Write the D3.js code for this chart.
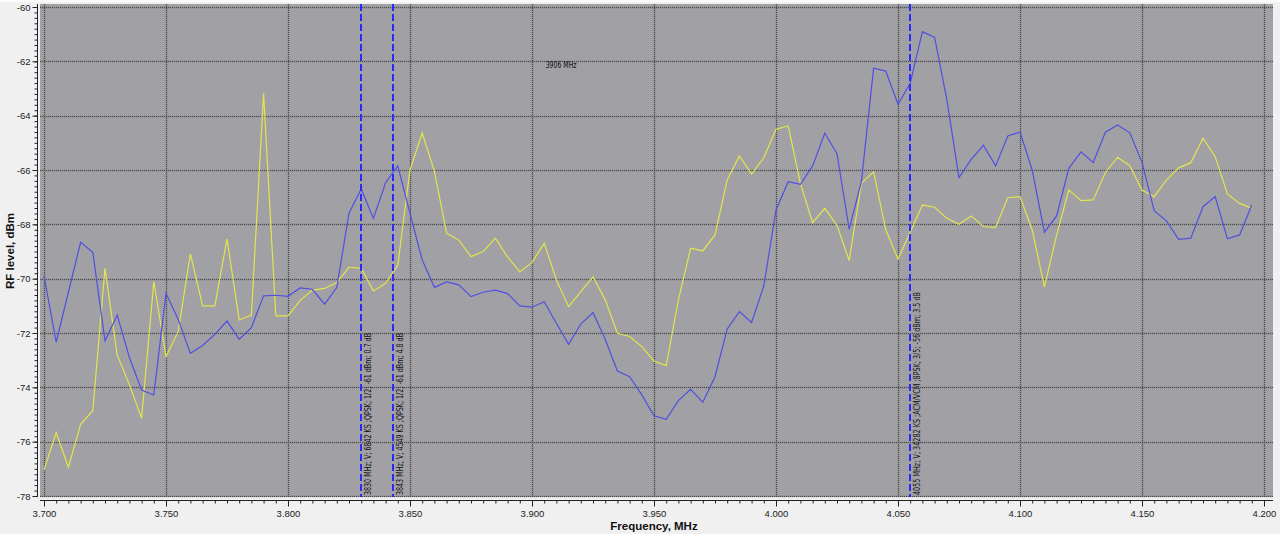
<!DOCTYPE html>
<html>
<head>
<meta charset="utf-8">
<script src="https://cdn.jsdelivr.net/npm/d3@7"></script>
<style>
  html, body { margin: 0; padding: 0; background: #f0f0f0; }
  svg { display: block; }
</style>
</head>
<body>
<svg id="chart" width="1280" height="534"></svg>
<script>
// ---------------- DATA ----------------
const freqs = [
  3.700,3.705,3.710,3.715,3.720,3.725,3.730,3.735,3.740,3.745,
  3.750,3.755,3.760,3.765,3.770,3.775,3.780,3.785,3.790,3.795,
  3.800,3.805,3.810,3.815,3.820,3.825,3.830,3.835,3.840,3.845,
  3.850,3.855,3.860,3.865,3.870,3.875,3.880,3.885,3.890,3.895,
  3.900,3.905,3.910,3.915,3.920,3.925,3.930,3.935,3.940,3.945,
  3.950,3.955,3.960,3.965,3.970,3.975,3.980,3.985,3.990,3.995,
  4.000,4.005,4.010,4.015,4.020,4.025,4.030,4.035,4.040,4.045,
  4.050,4.055,4.060,4.065,4.070,4.075,4.080,4.085,4.090,4.095,
  4.100,4.105,4.110,4.115,4.120,4.125,4.130,4.135,4.140,4.145,
  4.150,4.155,4.160,4.165,4.170,4.175,4.180,4.185,4.190,4.195
];
const blueLevels = [
  -69.90,-72.34,-70.50,-68.66,-69.03,-72.29,-71.34,-72.90,-74.10,-74.28,
  -70.54,-71.50,-72.75,-72.46,-72.05,-71.56,-72.23,-71.80,-70.63,-70.61,
  -70.65,-70.34,-70.39,-70.94,-70.33,-67.59,-66.70,-67.78,-66.47,-65.85,
  -67.60,-69.31,-70.32,-70.12,-70.23,-70.66,-70.50,-70.42,-70.55,-71.00,
  -71.05,-70.85,-71.64,-72.42,-71.67,-71.25,-72.23,-73.40,-73.61,-74.28,
  -75.05,-75.18,-74.49,-74.07,-74.55,-73.61,-71.85,-71.21,-71.61,-70.27,
  -67.47,-66.43,-66.53,-65.85,-64.64,-65.40,-68.18,-66.43,-62.25,-62.36,
  -63.58,-62.81,-60.91,-61.12,-63.40,-66.28,-65.61,-65.09,-65.85,-64.75,
  -64.60,-66.00,-68.29,-67.69,-65.94,-65.33,-65.72,-64.61,-64.34,-64.63,
  -65.72,-67.50,-67.87,-68.55,-68.51,-67.35,-66.98,-68.53,-68.39,-67.29
];
const yellowLevels = [
  -77.04,-75.67,-76.94,-75.36,-74.86,-69.62,-72.81,-73.90,-75.14,-70.11,
  -72.87,-71.95,-69.09,-71.00,-71.00,-68.54,-71.52,-71.34,-63.18,-71.37,
  -71.37,-70.80,-70.42,-70.36,-70.14,-69.58,-69.62,-70.45,-70.17,-69.50,
  -66.00,-64.64,-66.05,-68.33,-68.58,-69.19,-69.00,-68.51,-69.20,-69.75,
  -69.40,-68.70,-70.05,-71.03,-70.48,-69.93,-70.78,-72.01,-72.13,-72.50,
  -73.03,-73.20,-70.78,-68.88,-68.98,-68.39,-66.37,-65.48,-66.15,-65.55,
  -64.50,-64.38,-66.49,-67.94,-67.41,-68.04,-69.33,-66.49,-66.07,-68.20,
  -69.28,-68.29,-67.29,-67.37,-67.78,-68.00,-67.69,-68.08,-68.12,-67.02,
  -66.98,-68.21,-70.30,-68.40,-66.74,-67.13,-67.10,-66.09,-65.53,-65.84,
  -66.74,-66.98,-66.37,-65.92,-65.73,-64.83,-65.51,-66.88,-67.23,-67.41
];
const xTickValues = [3.70, 3.75, 3.80, 3.85, 3.90, 3.95, 4.00, 4.05, 4.10, 4.15, 4.20];
const xTickLabels = ["3.700","3.750","3.800","3.850","3.900","3.950","4.000","4.050","4.100","4.150","4.200"];
const yTickValues = [-78,-76,-74,-72,-70,-68,-66,-64,-62,-60];
const yTickLabels = ["-78","-76","-74","-72","-70","-68","-66","-64","-62","-60"];
const markerFreqs = [3.830, 3.843, 4.055];
const markerLabels = [
  "3830 MHz; V; 6842 KS ;QPSK; 1/2; -61 dBm; 0.7 dB",
  "3843 MHz; V; 4549 KS ;QPSK; 1/2; -61 dBm; 4.8 dB",
  "4055 MHz; V; 34282 KS ;ACM/VCM ;8PSK; 3/5; -56 dBm; 3.5 dB"
];
const cursorFreq = 3.906;
const cursorLevel = -62.1;
const cursorLabel = "3906 MHz";
const xTitle = "Frequency, MHz";
const yTitle = "RF level, dBm";

// ---------------- LAYOUT ----------------
const svg = d3.select("#chart");
const W = 1280, H = 534;
const plot = { left: 40, right: 1273, top: 4, bottom: 497 };

const x = d3.scaleLinear().domain([3.7, 4.2]).range([44, 1264]);
const y = d3.scaleLinear().domain([-78, -60]).range([496, 7]);

svg.append("rect").attr("x", 0).attr("y", 0).attr("width", W).attr("height", H).attr("fill", "#f0f0f0");
svg.append("rect").attr("x", 0).attr("y", 0).attr("width", W).attr("height", 2).attr("fill", "#fafafa");

// plot background
svg.append("rect")
  .attr("x", plot.left).attr("y", plot.top)
  .attr("width", plot.right - plot.left).attr("height", plot.bottom - plot.top)
  .attr("fill", "#a0a0a5");

// grid
const grid = svg.append("g");
yTickValues.forEach(v => {
  const yy = Math.round(y(v)) + 0.5;
  grid.append("line").attr("x1", plot.left).attr("x2", plot.right).attr("y1", yy).attr("y2", yy)
    .attr("stroke", "rgba(60,60,60,0.15)").attr("stroke-width", 2);
  grid.append("line").attr("x1", plot.left).attr("x2", plot.right).attr("y1", yy).attr("y2", yy)
    .attr("stroke", "#4a4a4a").attr("stroke-width", 1).attr("stroke-dasharray", "1,1");
});
xTickValues.forEach(v => {
  const xx = Math.round(x(v)) + 0.5;
  grid.append("line").attr("x1", xx).attr("x2", xx).attr("y1", plot.top).attr("y2", plot.bottom)
    .attr("stroke", "rgba(60,60,60,0.15)").attr("stroke-width", 2);
  grid.append("line").attr("x1", xx).attr("x2", xx).attr("y1", plot.top).attr("y2", plot.bottom)
    .attr("stroke", "#4a4a4a").attr("stroke-width", 1).attr("stroke-dasharray", "1,1");
});

// series
const line = d3.line().x((d, i) => x(freqs[i])).y(d => y(d));
svg.append("path").datum(yellowLevels).attr("d", line)
  .attr("fill", "none").attr("stroke", "#e4e44c").attr("stroke-width", 1.2);
svg.append("path").datum(blueLevels).attr("d", line)
  .attr("fill", "none").attr("stroke", "#5050e2").attr("stroke-width", 1.2);

// markers
const mk = svg.append("g");
markerFreqs.forEach((f, i) => {
  const xx = Math.round(x(f));
  mk.append("line").attr("x1", xx).attr("x2", xx).attr("y1", plot.top).attr("y2", plot.bottom)
    .attr("stroke", "#2a2aff").attr("stroke-width", 2).attr("stroke-dasharray", "7,3");
});
const markerLengths = [162, 162, 203];
markerFreqs.forEach((f, i) => {
  const xx = Math.round(x(f));
  mk.append("text")
    .attr("transform", `translate(${xx + 9.5},495) rotate(-90)`)
    .attr("font-family", "'DejaVu Sans', Arial, sans-serif")
    .attr("font-size", 8.5)
    .attr("fill", "#111")
    .attr("textLength", markerLengths[i])
    .attr("lengthAdjust", "spacingAndGlyphs")
    .text(markerLabels[i]);
});

// cursor label
svg.append("text")
  .attr("x", x(cursorFreq) - 1).attr("y", y(cursorLevel) + 3.5)
  .attr("font-family", "'DejaVu Sans', Arial, sans-serif")
  .attr("font-size", 8.5).attr("fill", "#111")
  .attr("textLength", 31).attr("lengthAdjust", "spacingAndGlyphs")
  .text(cursorLabel);

// ---------------- AXES ----------------
const fontFam = "'Liberation Sans', Arial, sans-serif";

// Y axis
const yMinor = d3.range(-78, -59.9, 0.2).map(v => +v.toFixed(1));
const yAxisMinor = d3.axisLeft(y).tickValues(yMinor).tickSize(3).tickSizeOuter(0).tickFormat("");
const yAxisMajor = d3.axisLeft(y).tickValues(yTickValues).tickSize(5).tickSizeOuter(0).tickPadding(2)
  .tickFormat((d, i) => yTickLabels[i]);
const gy1 = svg.append("g").attr("transform", "translate(37.5,0)").call(yAxisMinor);
const gy2 = svg.append("g").attr("transform", "translate(37.5,0)").call(yAxisMajor);
[gy1, gy2].forEach(g => {
  g.select(".domain").attr("stroke", "#222").attr("d", `M0,${plot.top}V${plot.bottom}`);
  g.selectAll(".tick line").attr("stroke", "#222");
});
gy2.selectAll("text").attr("font-family", fontFam).attr("font-size", 9.5).attr("fill", "#222");

// X axis
const xMinor = d3.range(0, 101).map(i => +(3.7 + i * 0.005).toFixed(3));
const xAxisMinor = d3.axisBottom(x).tickValues(xMinor).tickSize(3).tickSizeOuter(0).tickFormat("");
const xAxisMajor = d3.axisBottom(x).tickValues(xTickValues).tickSize(6).tickSizeOuter(0).tickPadding(4)
  .tickFormat((d, i) => xTickLabels[i]);
const gx1 = svg.append("g").attr("transform", "translate(0,500.5)").call(xAxisMinor);
const gx2 = svg.append("g").attr("transform", "translate(0,500.5)").call(xAxisMajor);
[gx1, gx2].forEach(g => {
  g.select(".domain").attr("stroke", "#222").attr("d", `M${plot.left},0H${plot.right}`);
  g.selectAll(".tick line").attr("stroke", "#222");
});
gx2.selectAll("text").attr("font-family", fontFam).attr("font-size", 9.5).attr("fill", "#222");

// Axis titles
svg.append("text")
  .attr("x", 654).attr("y", 530)
  .attr("text-anchor", "middle")
  .attr("font-family", fontFam).attr("font-weight", "bold").attr("font-size", 11.5).attr("fill", "#111")
  .text(xTitle);
svg.append("text")
  .attr("transform", "translate(14,251) rotate(-90)")
  .attr("text-anchor", "middle")
  .attr("font-family", fontFam).attr("font-weight", "bold").attr("font-size", 11.5).attr("fill", "#111")
  .text(yTitle);
</script>
</body>
</html>
